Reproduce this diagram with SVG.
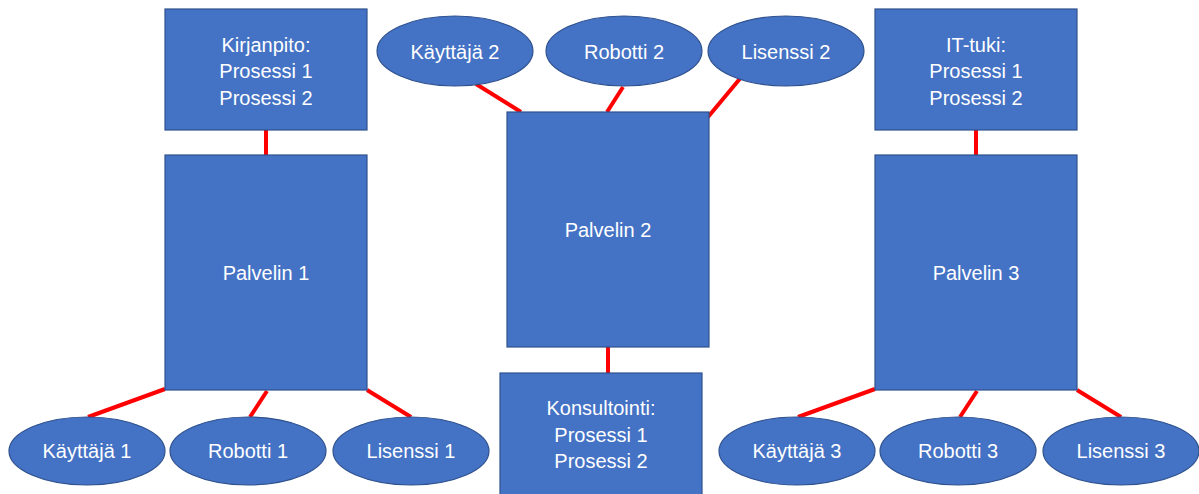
<svg xmlns="http://www.w3.org/2000/svg" width="1199" height="494" viewBox="0 0 1199 494">
<style>
.n{fill:#4472C4;stroke:#2F528F;stroke-width:1.2}
.t{font-family:"Liberation Sans",Arial,sans-serif;font-size:20px;fill:#fff;text-anchor:middle}
.c line{stroke:#FF0000;stroke-width:4}
</style>
<rect width="1199" height="494" fill="#fff"/>
<g class="c" id="connectors">
<line x1="266" y1="130" x2="266" y2="155"/>
<line x1="165" y1="389" x2="88" y2="417"/>
<line x1="267" y1="391" x2="250" y2="417"/>
<line x1="367" y1="390" x2="411" y2="417"/>
<line x1="476" y1="84" x2="521" y2="112"/>
<line x1="623" y1="87" x2="607" y2="112"/>
<line x1="743" y1="75" x2="708" y2="117"/>
<line x1="608" y1="347" x2="608" y2="373"/>
<line x1="976" y1="130" x2="976" y2="155"/>
<line x1="875" y1="389" x2="798" y2="417"/>
<line x1="977" y1="391" x2="960" y2="417"/>
<line x1="1077" y1="390" x2="1121" y2="417"/>
</g>
<g id="kirjanpito"><rect class="n" x="165" y="9" width="202" height="121"/><text class="t" x="266" y="52">Kirjanpito:</text><text class="t" x="266" y="78">Prosessi 1</text><text class="t" x="266" y="105">Prosessi 2</text></g>
<g id="palvelin1"><rect class="n" x="165" y="155" width="202" height="235"/><text class="t" x="266" y="280">Palvelin 1</text></g>
<g id="kayttaja1"><ellipse class="n" cx="87" cy="451" rx="78" ry="34"/><text class="t" x="87" y="458">Käyttäjä 1</text></g>
<g id="robotti1"><ellipse class="n" cx="248" cy="451" rx="78" ry="34"/><text class="t" x="248" y="458">Robotti 1</text></g>
<g id="lisenssi1"><ellipse class="n" cx="411" cy="451" rx="78" ry="34"/><text class="t" x="411" y="458">Lisenssi 1</text></g>
<g id="kayttaja2"><ellipse class="n" cx="455" cy="51" rx="78" ry="35"/><text class="t" x="455" y="59">Käyttäjä 2</text></g>
<g id="robotti2"><ellipse class="n" cx="624" cy="51" rx="78" ry="35"/><text class="t" x="624" y="59">Robotti 2</text></g>
<g id="lisenssi2"><ellipse class="n" cx="786" cy="51" rx="78" ry="35"/><text class="t" x="786" y="59">Lisenssi 2</text></g>
<g id="palvelin2"><rect class="n" x="507" y="112" width="202" height="235"/><text class="t" x="608" y="237">Palvelin 2</text></g>
<g id="konsultointi"><rect class="n" x="500" y="373" width="202" height="125"/><text class="t" x="601" y="415">Konsultointi:</text><text class="t" x="601" y="442">Prosessi 1</text><text class="t" x="601" y="468">Prosessi 2</text></g>
<g id="ittuki"><rect class="n" x="875" y="9" width="202" height="121"/><text class="t" x="976" y="52">IT-tuki:</text><text class="t" x="976" y="78">Prosessi 1</text><text class="t" x="976" y="105">Prosessi 2</text></g>
<g id="palvelin3"><rect class="n" x="875" y="155" width="202" height="235"/><text class="t" x="976" y="280">Palvelin 3</text></g>
<g id="kayttaja3"><ellipse class="n" cx="797" cy="451" rx="78" ry="34"/><text class="t" x="797" y="458">Käyttäjä 3</text></g>
<g id="robotti3"><ellipse class="n" cx="958" cy="451" rx="78" ry="34"/><text class="t" x="958" y="458">Robotti 3</text></g>
<g id="lisenssi3"><ellipse class="n" cx="1121" cy="451" rx="78" ry="34"/><text class="t" x="1121" y="458">Lisenssi 3</text></g>
</svg>
